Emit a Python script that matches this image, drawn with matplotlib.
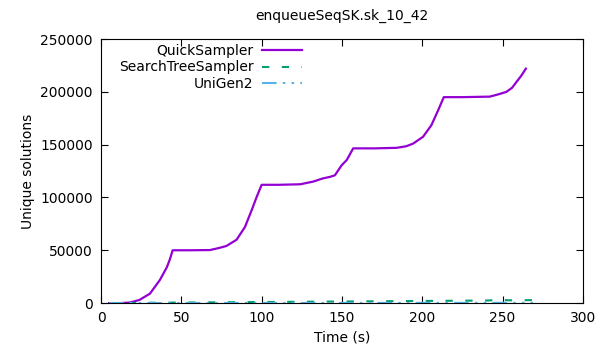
import matplotlib.pyplot as plt

# QuickSampler curve
qs_t = [5, 12, 18, 24, 30.5, 36.7, 41, 43, 44.6, 55, 67.8, 73, 78, 84.4, 89.6, 93.8, 96.9, 100,
        111, 124, 132, 138, 142.5, 145.6, 149.8, 153, 157, 170, 184, 190, 194.3, 200.5,
        205.7, 210, 213.4, 225, 242, 247, 252.4, 256, 258.7, 261.5, 264.5]
qs_y = [0, 0, 500, 3000, 9000, 22000, 34000, 42000, 50000, 50000, 50200, 52000, 54000, 60000,
        72000, 88000, 100500, 112000, 112000, 112500, 115000, 118000, 119500, 121000, 130500,
        135500, 146500, 146500, 147000, 148500, 151000, 157500, 168500, 183000, 195000,
        195000, 195500, 197500, 200000, 204000, 209500, 215000, 222000]

# SearchTreeSampler
sts_t = [5, 30, 60, 90, 120, 150, 180, 210, 240, 248, 255, 269]
sts_y = [0, 300, 600, 900, 1200, 1500, 1800, 2100, 2400, 3000, 2600, 2800]

# UniGen2
ug_t = [5, 60, 120, 180, 240, 269]
ug_y = [0, 50, 100, 150, 200, 250]

fig = plt.figure(figsize=(5.96, 3.52), dpi=100)
ax = fig.add_axes([0.1695, 0.139, 0.8085, 0.750])

ax.plot(qs_t, qs_y, color='#9400d3', lw=1.6, label='QuickSampler')
ax.plot(sts_t, sts_y, color='#009e73', lw=1.5, dashes=(3.5, 6), label='SearchTreeSampler')
ax.plot(ug_t, ug_y, color='#56b4e9', lw=1.5, dashes=(7, 3, 1.2, 3, 1.2, 3), label='UniGen2')

ax.set_xlim(0, 300)
ax.set_ylim(0, 250000)
ax.set_xticks([0, 50, 100, 150, 200, 250, 300])
ax.set_yticks([0, 50000, 100000, 150000, 200000, 250000])
ax.tick_params(direction='in', top=True, right=True, labelsize=10, length=5, pad=6)
ax.set_xlabel('Time (s)', fontsize=10)
ax.set_ylabel('Unique solutions', fontsize=10)
ax.set_title('enqueueSeqSK.sk_10_42', fontsize=10, pad=14)

leg = ax.legend(loc='upper left', bbox_to_anchor=(0.011, 1.03), frameon=False, markerfirst=False,
                fontsize=10, handlelength=2.9, labelspacing=0.2, handletextpad=0.6)

fig.savefig('out.png', dpi=100)
